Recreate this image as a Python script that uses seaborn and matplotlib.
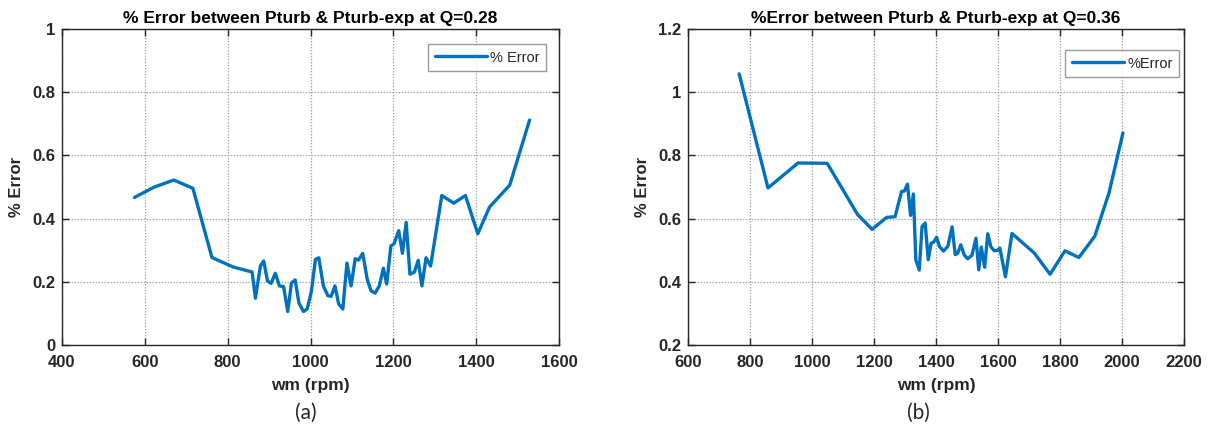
import numpy as np
import pandas as pd
import matplotlib
matplotlib.use("Agg")
import matplotlib.pyplot as plt
import seaborn as sns

# ---- data (a) Q=0.28 ----
rpm_a = [575, 623, 670, 716, 762, 813, 859, 867, 879, 887, 896, 905, 915, 925, 935,
         945, 954, 963, 972, 983, 992, 1002, 1012, 1020, 1031, 1042, 1050, 1059, 1068,
         1078, 1088, 1098, 1108, 1116, 1126, 1137, 1146, 1156, 1166, 1176, 1184, 1194,
         1202, 1213, 1222, 1231, 1240, 1251, 1260, 1269, 1279, 1290, 1317, 1346, 1374,
         1404, 1432, 1481, 1529]
err_a = [0.467, 0.500, 0.522, 0.496, 0.277, 0.247, 0.231, 0.148, 0.250, 0.266, 0.203,
         0.195, 0.227, 0.187, 0.185, 0.106, 0.196, 0.206, 0.133, 0.106, 0.114, 0.169,
         0.271, 0.276, 0.187, 0.156, 0.154, 0.187, 0.130, 0.114, 0.259, 0.187, 0.273,
         0.269, 0.290, 0.208, 0.172, 0.164, 0.187, 0.243, 0.193, 0.313, 0.321, 0.362,
         0.290, 0.388, 0.224, 0.231, 0.268, 0.187, 0.276, 0.250, 0.473, 0.449, 0.473,
         0.352, 0.436, 0.506, 0.712]

# ---- data (b) Q=0.36 ----
rpm_b = [765, 858, 955, 1049, 1147, 1194, 1241, 1268, 1289, 1298, 1308, 1318, 1327,
         1335, 1346, 1355, 1365, 1375, 1384, 1392, 1402, 1411, 1424, 1438, 1452, 1462,
         1470, 1480, 1491, 1502, 1516, 1529, 1538, 1546, 1557, 1567, 1577, 1588, 1599,
         1606, 1624, 1645, 1717, 1768, 1816, 1861, 1912, 1958, 2003]
err_b = [1.058, 0.697, 0.776, 0.775, 0.613, 0.566, 0.604, 0.606, 0.686, 0.687, 0.709,
         0.610, 0.678, 0.469, 0.437, 0.575, 0.586, 0.470, 0.522, 0.525, 0.541, 0.512,
         0.497, 0.512, 0.574, 0.486, 0.490, 0.517, 0.485, 0.473, 0.484, 0.538, 0.438,
         0.510, 0.446, 0.552, 0.511, 0.498, 0.500, 0.507, 0.416, 0.553, 0.491, 0.424,
         0.498, 0.477, 0.544, 0.681, 0.871]

xticks_a = [400, 600, 800, 1000, 1200, 1400, 1600]
yticks_a = [0, 0.2, 0.4, 0.6, 0.8, 1]
xticks_b = [600, 800, 1000, 1200, 1400, 1600, 1800, 2000, 2200]
yticks_b = [0.2, 0.4, 0.6, 0.8, 1, 1.2]

sns.set_theme(style="ticks")
plt.rcParams['font.family'] = ['Liberation Sans', 'DejaVu Sans']

W, H = 1211, 428
fig = plt.figure(figsize=(W / 100, H / 100), dpi=100)

def px_axes(x0, x1, y0, y1):
    return fig.add_axes([x0 / W, 1 - y1 / H, (x1 - x0) / W, (y1 - y0) / H])

ax1 = px_axes(62, 559, 29, 345)
ax2 = px_axes(688, 1184, 29, 345)

blue = "#0072BD"
df_a = pd.DataFrame({"wm": rpm_a, "err": err_a, "s": "% Error"})
df_b = pd.DataFrame({"wm": rpm_b, "err": err_b, "s": "%Error"})

sns.lineplot(data=df_a, x="wm", y="err", hue="s", palette=[blue], lw=2.4,
             ax=ax1, sort=False, estimator=None)
sns.lineplot(data=df_b, x="wm", y="err", hue="s", palette=[blue], lw=2.4,
             ax=ax2, sort=False, estimator=None)

def style(ax, xt, yt, title, leg_anchor):
    ax.set_xlim(xt[0], xt[-1])
    ax.set_ylim(yt[0], yt[-1])
    ax.set_xticks(xt)
    ax.set_yticks(yt)
    ax.set_xticklabels([str(v) for v in xt])
    ax.set_yticklabels([("%g" % v) for v in yt])
    ax.grid(True, color="#a8a8a8", linestyle=(0, (1.2, 1.2)), linewidth=0.9)
    ax.tick_params(direction="in", length=5, width=1, top=True, right=True,
                   labelsize=12, colors="#262626")
    ax.tick_params(axis="x", pad=7)
    ax.tick_params(axis="y", pad=5)
    for lab in ax.get_xticklabels() + ax.get_yticklabels():
        lab.set_fontweight("bold")
    for sp in ax.spines.values():
        sp.set_visible(True)
        sp.set_color("#262626")
        sp.set_linewidth(1.0)
    ax.set_xlabel("wm (rpm)", fontsize=12.5, fontweight="bold", color="#262626", labelpad=6)
    ax.set_ylabel("% Error", fontsize=12, fontweight="bold", color="#262626", labelpad=6)
    ax.set_title(title, fontsize=12.5, fontweight="bold", color="black", pad=4)
    leg = ax.legend(loc="upper right", bbox_to_anchor=leg_anchor, fontsize=10.5,
                    handlelength=3.6, frameon=True, fancybox=False, borderpad=0.45,
                    handletextpad=0.2, borderaxespad=0)
    leg.get_frame().set_edgecolor("#808080")
    leg.get_frame().set_linewidth(1.0)
    for t in leg.get_texts():
        t.set_color("#262626")

style(ax1, xticks_a, yticks_a, "% Error between Pturb & Pturb-exp at Q=0.28",
      ((546 - 62) / (559 - 62), 1 - (44 - 29) / 316))
style(ax2, xticks_b, yticks_b, "%Error between Pturb & Pturb-exp at Q=0.36",
      ((1179 - 688) / (1184 - 688), 1 - (50 - 29) / 316))

fig.text(306 / W, 1 - 413 / H, "(a)", fontsize=15, ha="center", va="center",
         family=["Lato", "DejaVu Sans"])
fig.text(918 / W, 1 - 413 / H, "(b)", fontsize=15, ha="center", va="center",
         family=["Lato", "DejaVu Sans"])

fig.savefig("out.png", dpi=100)
